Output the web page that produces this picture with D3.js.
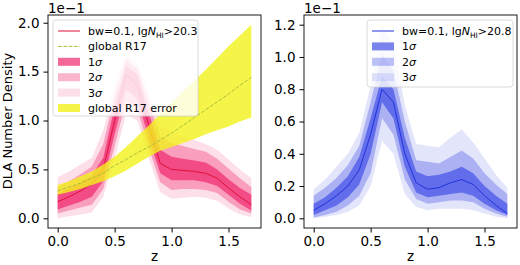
<!DOCTYPE html>
<html>
<head>
<meta charset="utf-8">
<script src="https://cdn.jsdelivr.net/npm/d3@7"></script>
<style>
  body { margin: 0; background: #fff; }
  text { font-family: "DejaVu Sans", sans-serif; fill: #000; }
</style>
</head>
<body>
<svg id="chart" width="520" height="265"></svg>
<script>
// redshift bins shared by both panels
const zs = [0, 0.1, 0.2, 0.3, 0.4, 0.5, 0.6, 0.7, 0.8, 0.9, 1.0, 1.1, 1.2, 1.3, 1.4, 1.5, 1.6, 1.7];

// left panel: lgNHI > 20.3 (units of 1e-1)
const redMed = [0.17, 0.22, 0.28, 0.35, 0.50, 1.00, 1.47, 1.36, 0.95, 0.56, 0.50, 0.49, 0.48, 0.46, 0.41, 0.31, 0.22, 0.14];
const redLo1 = [0.09, 0.13, 0.17, 0.22, 0.38, 0.86, 1.32, 1.22, 0.82, 0.46, 0.39, 0.39, 0.39, 0.37, 0.33, 0.24, 0.15, 0.08];
const redHi1 = [0.25, 0.31, 0.37, 0.44, 0.62, 1.14, 1.56, 1.47, 1.08, 0.70, 0.63, 0.61, 0.59, 0.57, 0.50, 0.40, 0.31, 0.24];
const redLo2 = [0.05, 0.08, 0.11, 0.14, 0.30, 0.74, 1.20, 1.12, 0.72, 0.37, 0.29, 0.30, 0.30, 0.29, 0.26, 0.17, 0.09, 0.05];
const redHi2 = [0.32, 0.38, 0.45, 0.53, 0.76, 1.25, 1.62, 1.53, 1.18, 0.84, 0.77, 0.74, 0.71, 0.68, 0.61, 0.51, 0.41, 0.32];
const redLo3 = [0.00, 0.02, 0.04, 0.06, 0.22, 0.62, 1.06, 1.00, 0.62, 0.27, 0.20, 0.21, 0.22, 0.21, 0.18, 0.10, 0.04, 0.01];
const redHi3 = [0.42, 0.48, 0.55, 0.62, 0.90, 1.36, 1.67, 1.58, 1.27, 0.95, 0.88, 0.84, 0.80, 0.76, 0.70, 0.60, 0.50, 0.41];

// global R17 fit and its error band
const r17Mid = [0.28, 0.32, 0.36, 0.41, 0.46, 0.54, 0.60, 0.67, 0.73, 0.80, 0.87, 0.95, 1.03, 1.11, 1.19, 1.27, 1.36, 1.44];
const r17Lo  = [0.24, 0.27, 0.30, 0.34, 0.38, 0.43, 0.49, 0.56, 0.63, 0.69, 0.73, 0.77, 0.81, 0.86, 0.90, 0.94, 0.99, 1.03];
const r17Hi  = [0.34, 0.38, 0.43, 0.48, 0.55, 0.63, 0.73, 0.84, 0.95, 1.07, 1.18, 1.30, 1.41, 1.52, 1.64, 1.76, 1.87, 1.98];

// right panel: lgNHI > 20.8
const blueMed = [0.05, 0.09, 0.14, 0.20, 0.30, 0.52, 0.80, 0.72, 0.40, 0.22, 0.18, 0.19, 0.22, 0.24, 0.21, 0.14, 0.08, 0.03];
const blueLo1 = [0.02, 0.05, 0.08, 0.13, 0.21, 0.40, 0.72, 0.62, 0.32, 0.16, 0.13, 0.14, 0.15, 0.16, 0.14, 0.09, 0.05, 0.02];
const blueHi1 = [0.09, 0.13, 0.19, 0.26, 0.38, 0.62, 0.88, 0.80, 0.50, 0.29, 0.26, 0.27, 0.29, 0.32, 0.28, 0.20, 0.14, 0.09];
const blueLo2 = [0.005, 0.02, 0.04, 0.08, 0.14, 0.28, 0.62, 0.52, 0.24, 0.12, 0.09, 0.10, 0.11, 0.11, 0.10, 0.06, 0.03, 0.01];
const blueHi2 = [0.14, 0.19, 0.25, 0.33, 0.45, 0.72, 1.02, 0.92, 0.60, 0.36, 0.35, 0.34, 0.38, 0.42, 0.37, 0.28, 0.21, 0.15];
const blueLo3 = [0.00, 0.01, 0.02, 0.04, 0.08, 0.20, 0.48, 0.40, 0.15, 0.07, 0.05, 0.06, 0.06, 0.06, 0.05, 0.03, 0.01, 0.00];
const blueHi3 = [0.18, 0.24, 0.32, 0.40, 0.53, 0.82, 1.20, 1.08, 0.70, 0.46, 0.45, 0.44, 0.50, 0.55, 0.47, 0.37, 0.27, 0.19];

const xTicks = [0.0, 0.5, 1.0, 1.5];
const leftYTicks = [0.0, 0.5, 1.0, 1.5, 2.0];
const rightYTicks = [0.0, 0.2, 0.4, 0.6, 0.8, 1.0, 1.2];

const svg = d3.select("#chart");

// matplotlib-style autoscale: data extent plus 5% each side
function padded(lo, hi) {
    const m = (hi - lo) * 0.05;
    return [lo - m, hi + m];
}

function drawPanel(opt) {
    const x = d3.scaleLinear().domain(padded(0, 1.7)).range([opt.left, opt.right]);
    const allY = opt.bands.flatMap(b => b.lo.concat(b.hi)).concat(opt.extraY || []);
    const y = d3.scaleLinear().domain(padded(d3.min(allY), d3.max(allY))).range([opt.bottom, opt.top]);

    const g = svg.append("g");
    const clipId = "clip" + opt.left;
    g.append("clipPath").attr("id", clipId).append("rect")
        .attr("x", opt.left).attr("y", opt.top)
        .attr("width", opt.right - opt.left).attr("height", opt.bottom - opt.top);

    const plot = g.append("g").attr("clip-path", `url(#${clipId})`);

    // sigma bands, widest first so they stack up
    opt.bands.forEach(b => {
        const area = d3.area()
            .x((d, i) => x(zs[i]))
            .y0((d, i) => y(b.lo[i]))
            .y1((d, i) => y(b.hi[i]));
        plot.append("path").datum(zs).attr("d", area)
            .attr("fill", b.color).attr("fill-opacity", b.alpha);
    });

    const line = d3.line().x((d, i) => x(zs[i])).y(d => y(d));
    plot.append("path").datum(opt.median).attr("d", line)
        .attr("fill", "none").attr("stroke", opt.lineColor).attr("stroke-width", 1);

    if (opt.extra) opt.extra(plot, x, y);

    // axes
    g.append("g").attr("transform", `translate(0,${opt.bottom})`)
        .call(d3.axisBottom(x).tickValues(xTicks).tickFormat(d3.format(".1f")).tickSize(4.5).tickPadding(4))
        .call(a => a.select(".domain").remove())
        .call(a => a.selectAll("text").style("font-size", "13.5px").style("font-family", "DejaVu Sans"));
    g.append("g").attr("transform", `translate(${opt.left},0)`)
        .call(d3.axisLeft(y).tickValues(opt.yTicks).tickFormat(d3.format(".1f")).tickSize(4.5).tickPadding(4))
        .call(a => a.select(".domain").remove())
        .call(a => a.selectAll("text").style("font-size", "13.5px").style("font-family", "DejaVu Sans"));

    g.append("rect").attr("x", opt.left).attr("y", opt.top)
        .attr("width", opt.right - opt.left).attr("height", opt.bottom - opt.top)
        .attr("fill", "none").attr("stroke", "#000").attr("stroke-width", 0.9);

    g.append("text").attr("x", opt.left).attr("y", 13)
        .style("font-size", "13.5px").text("1e\u22121");

    g.append("text").attr("x", (opt.left + opt.right) / 2).attr("y", 261)
        .attr("text-anchor", "middle").style("font-size", "13.5px").text("z");

    // legend
    const lg = g.append("g");
    lg.append("rect").attr("x", opt.legend.x).attr("y", opt.legend.y)
        .attr("width", opt.legend.w).attr("height", opt.legend.h)
        .attr("rx", 3).attr("fill", "#fff").attr("fill-opacity", 0.8)
        .attr("stroke", "#d0d0d0").attr("stroke-width", 0.8);

    opt.legend.items.forEach((it, i) => {
        const cy = opt.legend.y + 11 + i * 15.4;
        const hx = opt.legend.x + 5;
        if (it.type === "line") {
            lg.append("line").attr("x1", hx).attr("x2", hx + 22).attr("y1", cy).attr("y2", cy)
                .attr("stroke", it.color).attr("stroke-width", 1)
                .attr("stroke-dasharray", it.dash || null);
        } else {
            lg.append("rect").attr("x", hx).attr("y", cy - 4).attr("width", 22).attr("height", 8)
                .attr("fill", it.color).attr("fill-opacity", it.alpha);
        }
        const t = lg.append("text").attr("x", hx + 30).attr("y", cy + 4).style("font-size", "11px");
        it.label(t);
    });
}

function nhiLabel(cut) {
    return t => {
        t.append("tspan").text("bw=0.1, lg");
        t.append("tspan").style("font-style", "italic").text("N");
        t.append("tspan").attr("dy", 2.5).style("font-size", "7.5px").text("HI");
        t.append("tspan").attr("dy", -2.5).text(">" + cut);
    };
}
function sigmaLabel(n) {
    return t => {
        t.append("tspan").text(n);
        t.append("tspan").style("font-style", "italic").text("\u03c3");
    };
}

const red = "#f0286e";
const blue = "#4150e6";
const yellow = "#f2f21c";

drawPanel({
    left: 48, right: 261, top: 15, bottom: 228,
    yTicks: leftYTicks,
    median: redMed, lineColor: "#e0103a",
    extraY: r17Lo.concat(r17Hi),
    bands: [
        { lo: redLo3, hi: redHi3, color: red, alpha: 0.15 },
        { lo: redLo2, hi: redHi2, color: red, alpha: 0.35 },
        { lo: redLo1, hi: redHi1, color: red, alpha: 0.7 }
    ],
    extra: (plot, x, y) => {
        const band = d3.area().x((d, i) => x(zs[i])).y0((d, i) => y(r17Lo[i])).y1((d, i) => y(r17Hi[i]));
        plot.append("path").datum(zs).attr("d", band).attr("fill", yellow).attr("fill-opacity", 0.8);
        const mid = d3.line().x((d, i) => x(zs[i])).y(d => y(d));
        plot.append("path").datum(r17Mid).attr("d", mid).attr("fill", "none")
            .attr("stroke", "#a9bf3c").attr("stroke-width", 1).attr("stroke-dasharray", "3.7,1.6");
    },
    legend: {
        x: 53, y: 20, w: 145, h: 96,
        items: [
            { type: "line", color: "#e0103a", label: nhiLabel("20.3") },
            { type: "line", color: "#a9bf3c", dash: "3.7,1.6", label: t => t.text("global R17") },
            { type: "patch", color: red, alpha: 0.7, label: sigmaLabel("1") },
            { type: "patch", color: red, alpha: 0.35, label: sigmaLabel("2") },
            { type: "patch", color: red, alpha: 0.15, label: sigmaLabel("3") },
            { type: "patch", color: yellow, alpha: 0.8, label: t => t.text("global R17 error") }
        ]
    }
});

drawPanel({
    left: 304, right: 517, top: 15, bottom: 228,
    yTicks: rightYTicks,
    median: blueMed, lineColor: "#2233dd",
    bands: [
        { lo: blueLo3, hi: blueHi3, color: blue, alpha: 0.15 },
        { lo: blueLo2, hi: blueHi2, color: blue, alpha: 0.35 },
        { lo: blueLo1, hi: blueHi1, color: blue, alpha: 0.7 }
    ],
    legend: {
        x: 367, y: 20, w: 146, h: 67,
        items: [
            { type: "line", color: "#2233dd", label: nhiLabel("20.8") },
            { type: "patch", color: blue, alpha: 0.7, label: sigmaLabel("1") },
            { type: "patch", color: blue, alpha: 0.35, label: sigmaLabel("2") },
            { type: "patch", color: blue, alpha: 0.15, label: sigmaLabel("3") }
        ]
    }
});

// shared y label on the left panel
svg.append("text")
    .attr("transform", "translate(12,121) rotate(-90)")
    .attr("text-anchor", "middle").style("font-size", "13px")
    .text("DLA Number Density");
</script>
</body>
</html>
